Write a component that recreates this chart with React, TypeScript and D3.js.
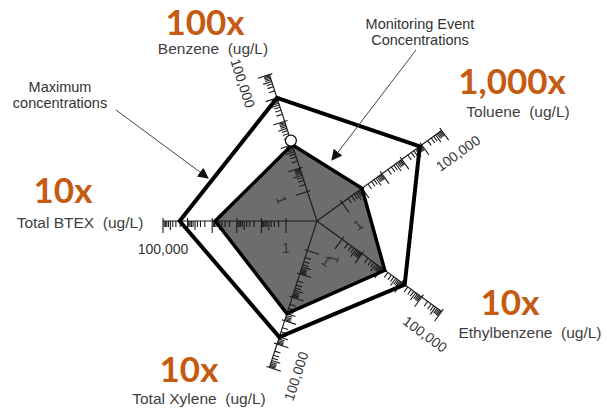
import React from "react";
import * as d3 from "d3";

const axesNames = ["Benzene", "Toluene", "Ethylbenzene", "Total Xylene", "Total BTEX"];
const maxConc = [10000, 8000, 1400, 5000, 21000];
const eventConc = [100, 10, 140, 500, 750];
const ratioLabels = ["100x", "1,000x", "10x", "10x", "10x"];
const unitLabel = "(ug/L)";
const tickLabelValues = [1, 100000];
const markerValue = 150; // white circle on Benzene axis

const W = 607;
const H = 412;
const cx = 317;
const cy = 221;
const startAngle = -18;

// label placements (layout)
const ratioPos = [
  [205, 35],
  [512, 94],
  [510, 315],
  [189, 382],
  [63, 203],
];
const namePos = [
  [213, 54],
  [518, 117],
  [530, 338],
  [199, 404],
  [80, 228],
];

const r = d3.scaleLog().domain([1, 100000]).range([31, 154]);

function dir(i: number) {
  const a = ((startAngle + i * 72) * Math.PI) / 180;
  return [Math.sin(a), -Math.cos(a)];
}
function pt(i: number, v: number) {
  const [dx, dy] = dir(i);
  const rr = r(v);
  return [cx + rr * dx, cy + rr * dy] as [number, number];
}
function textAngle(i: number) {
  const [dx, dy] = dir(i);
  let phi = (Math.atan2(dy, dx) * 180) / Math.PI;
  if (phi > 90.01) phi -= 180;
  if (phi <= -90) phi += 180;
  return phi;
}

const lineGen = d3.line().curve(d3.curveLinearClosed);

export default function App() {
  const maxPts = maxConc.map((v, i) => pt(i, v));
  const evPts = eventConc.map((v, i) => pt(i, v));
  const fmt = d3.format(",");

  const axes = axesNames.map((name, i) => {
    const th = textAngle(i);
    const thr = (th * Math.PI) / 180;
    const px = -Math.sin(thr);
    const py = Math.cos(thr);
    const ticks: JSX.Element[] = [];
    for (let k = 0; k <= 5; k++) {
      const base = Math.pow(10, k);
      const [x, y] = pt(i, base);
      ticks.push(
        <line key={`M${k}`} x1={x - px * 3} y1={y - py * 3} x2={x + px * 12} y2={y + py * 12} />
      );
      if (k < 5) {
        for (let m = 2; m <= 9; m++) {
          const [mx, my] = pt(i, m * base);
          const len = m === 5 ? 9 : 6;
          ticks.push(
            <line key={`m${k}-${m}`} x1={mx} y1={my} x2={mx + px * len} y2={my + py * len} />
          );
        }
      }
    }
    const end = pt(i, 100000);
    return (
      <g key={name}>
        <g stroke="#1a1a1a" strokeWidth={1.1}>
          <line x1={cx} y1={cy} x2={end[0]} y2={end[1]} />
          {ticks}
        </g>
        {tickLabelValues.map((v) => {
          const [tx, ty] = pt(i, v);
          const off = v === 1 ? 27 : 28;
          const lx = tx + px * off;
          const ly = ty + py * off;
          return (
            <text
              key={v}
              x={lx}
              y={ly}
              transform={`rotate(${th},${lx},${ly})`}
              textAnchor="middle"
              dominantBaseline="central"
              fontSize={14}
              fill="#333"
              fontFamily="'Liberation Sans', Arial, sans-serif"
            >
              {fmt(v)}
            </text>
          );
        })}
      </g>
    );
  });

  const mk = pt(0, markerValue);

  return (
    <svg
      width={W}
      height={H}
      style={{ position: "absolute", left: 0, top: 0, background: "#fff" }}
    >
      <defs>
        <marker
          id="arr"
          viewBox="0 0 10 10"
          refX={9}
          refY={5}
          markerWidth={11}
          markerHeight={11}
          markerUnits="userSpaceOnUse"
          orient="auto"
        >
          <path d="M0,0 L10,5 L0,10 z" fill="#111" />
        </marker>
      </defs>
      <rect width={W} height={H} fill="#fff" />
      <path d={lineGen(evPts) || ""} fill="#6d6d6d" stroke="none" />
      {axes}
      <path d={lineGen(maxPts) || ""} fill="none" stroke="#000" strokeWidth={4} strokeLinejoin="miter" />
      <path d={lineGen(evPts) || ""} fill="none" stroke="#000" strokeWidth={3.5} strokeLinejoin="miter" />
      <circle cx={mk[0]} cy={mk[1]} r={5.5} fill="#fff" stroke="#111" strokeWidth={1.3} />

      {/* annotations */}
      <line x1={116} y1={110} x2={208} y2={178} stroke="#444" strokeWidth={1} markerEnd="url(#arr)" />
      <line x1={416} y1={50} x2={332} y2={160} stroke="#444" strokeWidth={1} markerEnd="url(#arr)" />
      <g fontFamily="'Liberation Sans', Arial, sans-serif" fontSize={14.5} fill="#333" textAnchor="middle">
        <text x={60} y={92}>Maximum</text>
        <text x={60} y={108}>concentrations</text>
        <text x={420} y={29}>Monitoring Event</text>
        <text x={420} y={45}>Concentrations</text>
      </g>

      {axesNames.map((name, i) => (
        <g key={name} textAnchor="middle">
          <text
            x={ratioPos[i][0]}
            y={ratioPos[i][1]}
            fontFamily="Lato, 'Open Sans', sans-serif"
            fontWeight="bold"
            fontSize={35}
            fill="#C55A11"
          >
            {ratioLabels[i]}
          </text>
          <text
            x={namePos[i][0]}
            y={namePos[i][1]}
            fontFamily="'Liberation Sans', Arial, sans-serif"
            fontSize={15.5}
            fill="#404040"
            style={{ whiteSpace: "pre" }}
          >
            {`${name}  ${unitLabel}`}
          </text>
        </g>
      ))}
    </svg>
  );
}
